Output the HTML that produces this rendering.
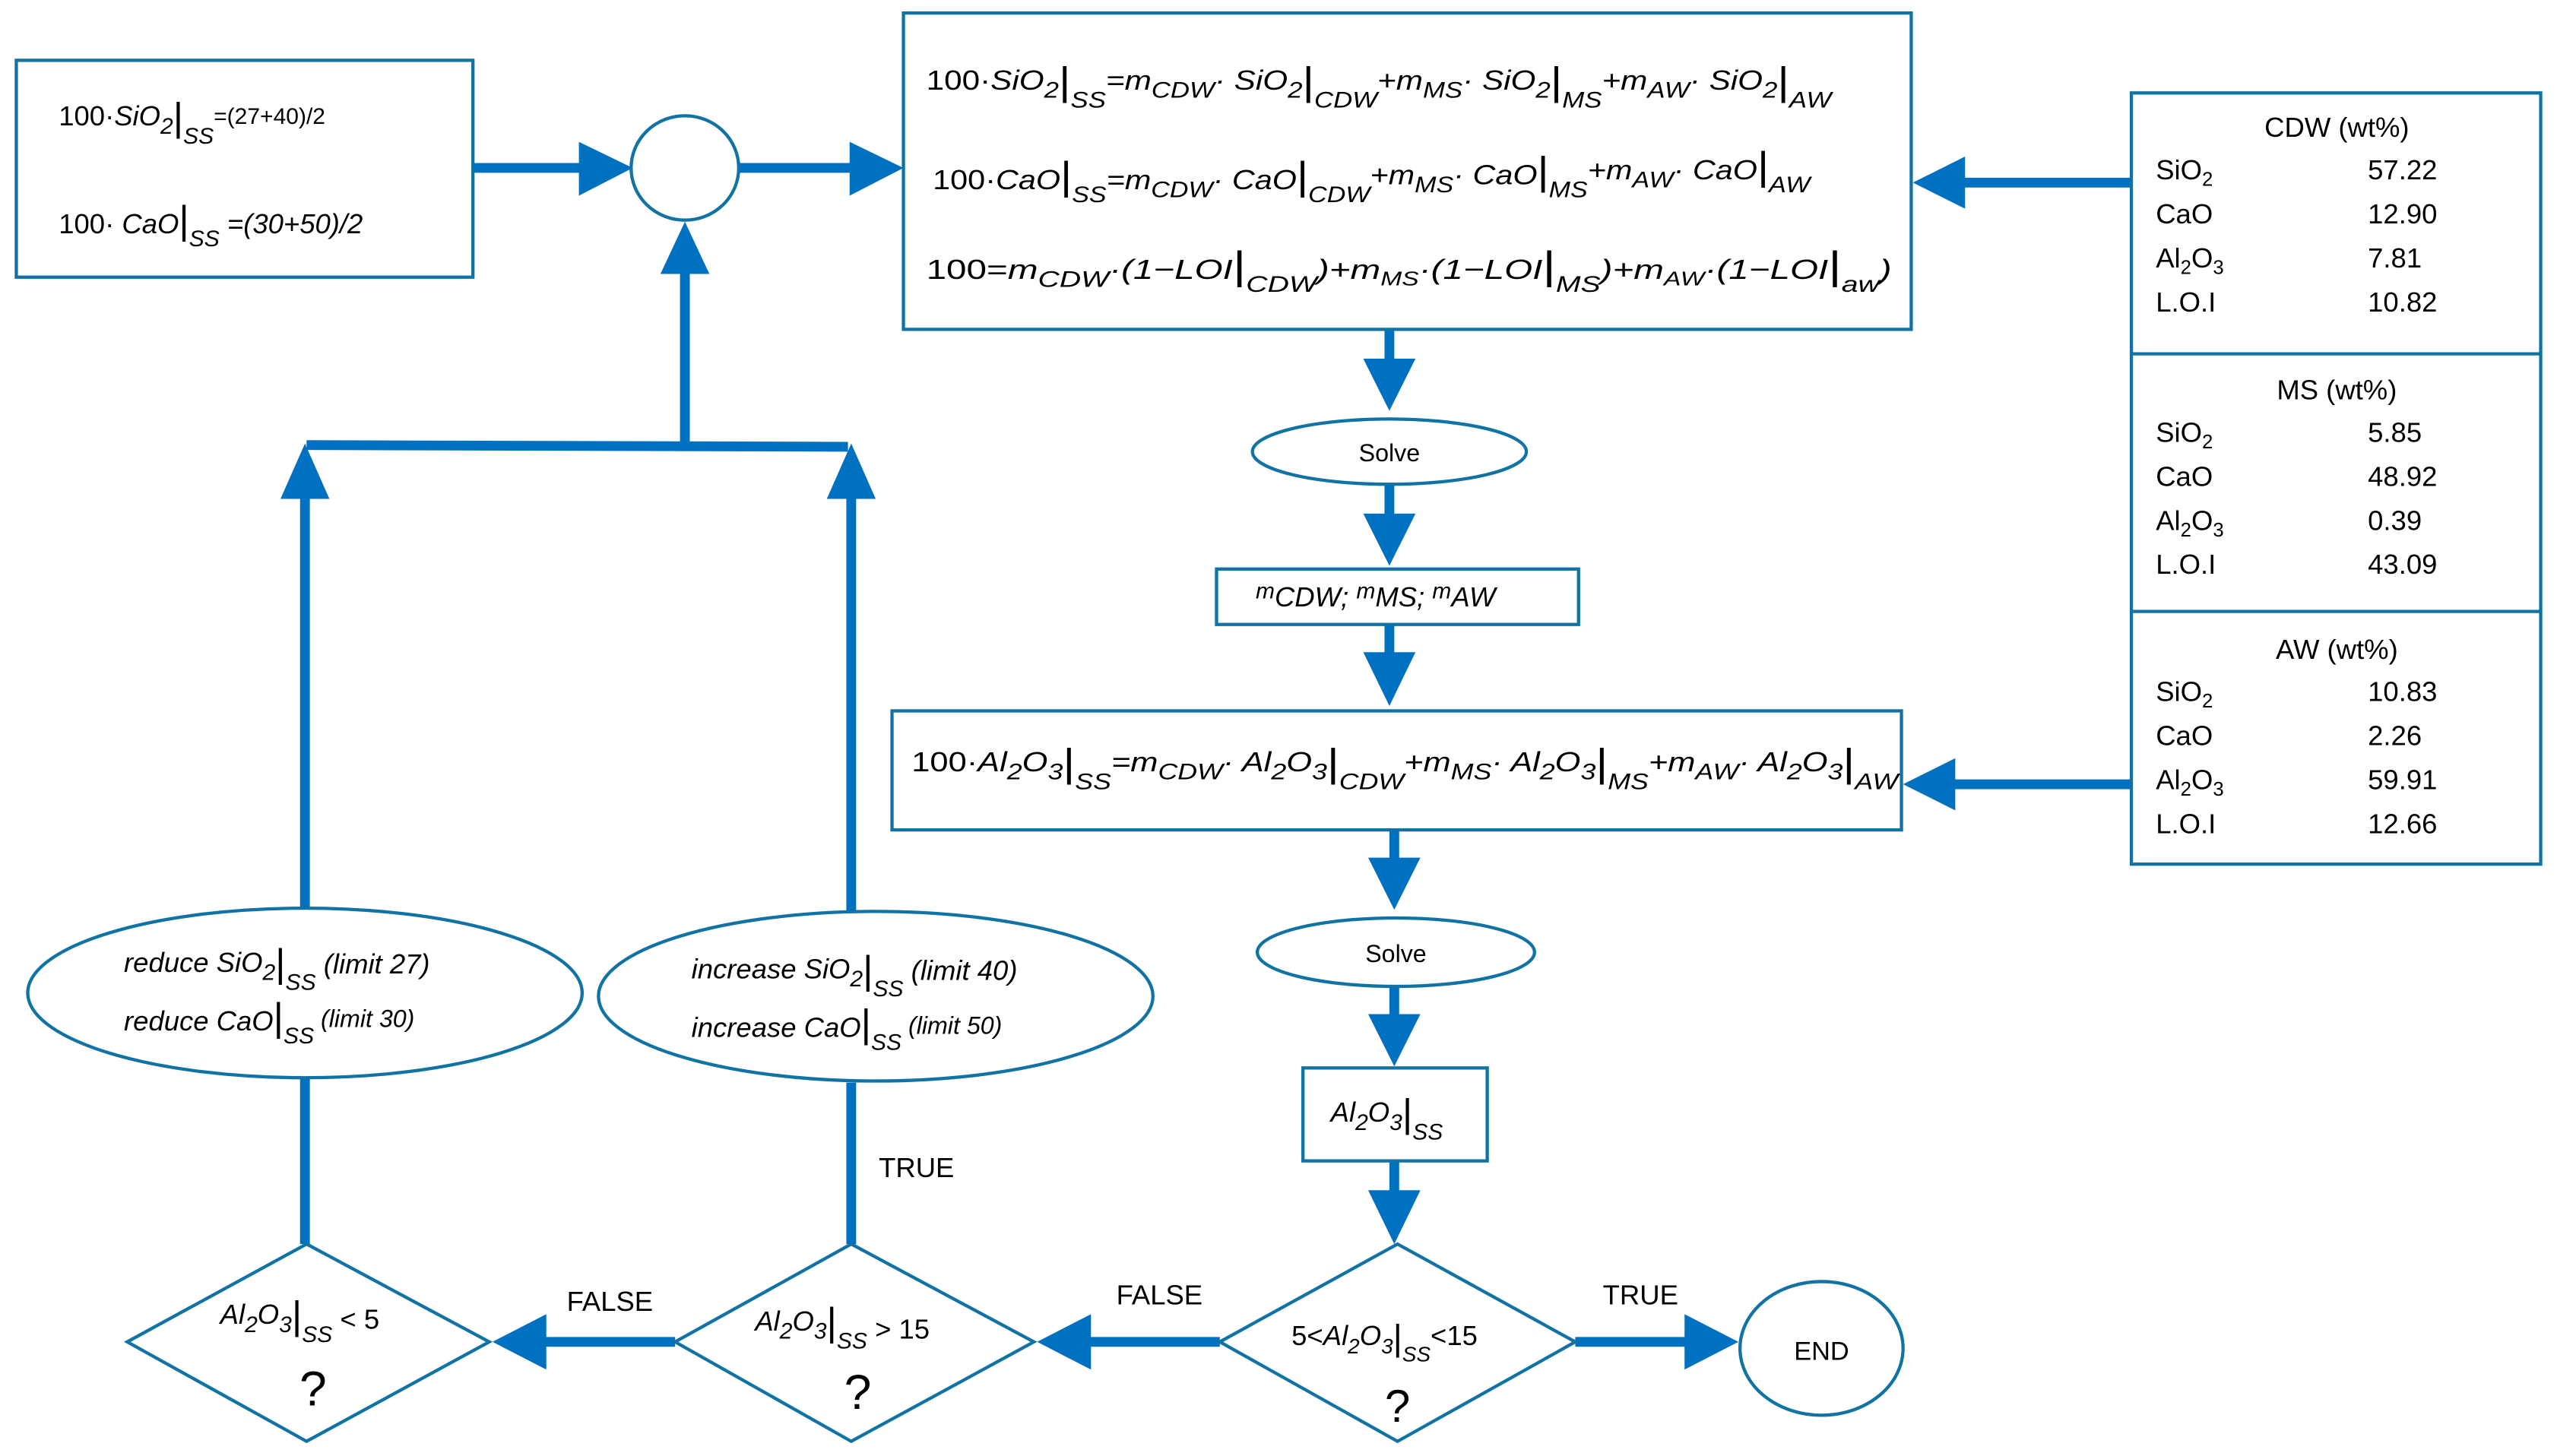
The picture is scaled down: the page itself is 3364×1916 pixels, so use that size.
<!DOCTYPE html>
<html><head><meta charset="utf-8"><style>
html,body{margin:0;padding:0;background:#fff}
svg{display:block}
text{font-family:"Liberation Sans",sans-serif;fill:#000}
.m{font-style:italic;font-size:17px}
.b{stroke:#1173a3;stroke-width:2;fill:#fff}
.a{stroke:#0070c0;stroke-width:6;fill:none}
.h{fill:#0070c0}
.t{font-size:17px}
</style></head><body>
<svg width="3364" height="1916" viewBox="0 0 1568 893" preserveAspectRatio="none" xmlns="http://www.w3.org/2000/svg">
<!-- connectors -->
<line class="a" x1="290" y1="103" x2="360" y2="103"/><polygon class="h" points="355,87 388,103 355,120"/>
<line class="a" x1="453" y1="103" x2="525" y2="103"/><polygon class="h" points="521,87 554,103 521,120"/>
<line class="a" x1="1307" y1="112" x2="1200" y2="112"/><polygon class="h" points="1205,96 1173,112 1205,128"/>
<line class="a" x1="1307" y1="481" x2="1195" y2="481"/><polygon class="h" points="1199,465 1167,481 1199,497"/>
<line class="a" x1="852" y1="202" x2="852" y2="225"/><polygon class="h" points="836,220 852,252 868,220"/>
<line class="a" x1="852" y1="297" x2="852" y2="320"/><polygon class="h" points="836,315 852,347 868,315"/>
<line class="a" x1="852" y1="383" x2="852" y2="405"/><polygon class="h" points="836,400 852,433 868,400"/>
<line class="a" x1="855" y1="509" x2="855" y2="530"/><polygon class="h" points="839,526 855,558 871,526"/>
<line class="a" x1="855" y1="605" x2="855" y2="628"/><polygon class="h" points="839,622 855,654 871,622"/>
<line class="a" x1="855" y1="712" x2="855" y2="735"/><polygon class="h" points="839,730 855,763 871,730"/>
<line class="a" x1="966" y1="823" x2="1040" y2="823"/><polygon class="h" points="1033,806 1066,823 1033,840"/>
<line class="a" x1="748" y1="823" x2="665" y2="823"/><polygon class="h" points="669,806 636,823 669,840"/>
<line class="a" x1="414" y1="823" x2="330" y2="823"/><polygon class="h" points="335,806 302,823 335,840"/>
<line class="a" x1="187" y1="763" x2="187" y2="660"/>
<line class="a" x1="187" y1="558" x2="187" y2="300"/><polygon class="h" points="172,306 187,272 202,306"/>
<line class="a" x1="522" y1="763" x2="522" y2="664"/>
<line class="a" x1="522" y1="560" x2="522" y2="300"/><polygon class="h" points="507,306 522,272 537,306"/>
<line class="a" x1="188" y1="273" x2="520" y2="274"/>
<line class="a" x1="420" y1="274" x2="420" y2="165"/><polygon class="h" points="405,168 420,136 435,168"/>

<!-- left box -->
<rect class="b" x="10" y="37" width="280" height="133"/>
<text class="m" x="36" y="77"><tspan font-style="normal">100·</tspan>SiO<tspan font-size="14" dy="5">2</tspan><tspan font-size="24" font-style="normal" dy="-2">|</tspan><tspan font-size="14" dy="8">SS</tspan><tspan font-size="14" font-style="normal" dy="-12">=(27+40)/2</tspan></text>
<text class="m" x="36" y="143"><tspan font-style="normal">100· </tspan>CaO<tspan font-size="24" font-style="normal">|</tspan><tspan font-size="14" dy="8">SS</tspan><tspan dy="-8"> =(30+50)/2</tspan></text>
<ellipse class="b" cx="420" cy="103" rx="33" ry="32"/>

<!-- top formula box -->
<rect class="b" x="554" y="8" width="618" height="194"/>
<text class="m" x="568" y="55" textLength="555" lengthAdjust="spacingAndGlyphs"><tspan font-style="normal">100·</tspan>SiO<tspan font-size="14" dy="5">2</tspan><tspan font-size="24" font-style="normal" dy="-2">|</tspan><tspan font-size="14" dy="8">SS</tspan><tspan dy="-11">=m</tspan><tspan font-size="14" dy="5">CDW</tspan><tspan dy="-5">· SiO</tspan><tspan font-size="14" dy="5">2</tspan><tspan font-size="24" font-style="normal" dy="-2">|</tspan><tspan font-size="14" dy="8">CDW</tspan><tspan dy="-11">+m</tspan><tspan font-size="14" dy="5">MS</tspan><tspan dy="-5">· SiO</tspan><tspan font-size="14" dy="5">2</tspan><tspan font-size="24" font-style="normal" dy="-2">|</tspan><tspan font-size="14" dy="8">MS</tspan><tspan dy="-11">+m</tspan><tspan font-size="14" dy="5">AW</tspan><tspan dy="-5">· SiO</tspan><tspan font-size="14" dy="5">2</tspan><tspan font-size="24" font-style="normal" dy="-2">|</tspan><tspan font-size="14" dy="8">AW</tspan></text>
<text class="m" x="572" y="116" textLength="538" lengthAdjust="spacingAndGlyphs"><tspan font-style="normal">100·</tspan>CaO<tspan font-size="24" font-style="normal">|</tspan><tspan font-size="14" dy="8">SS</tspan><tspan dy="-8">=m</tspan><tspan font-size="14" dy="5">CDW</tspan><tspan dy="-5">· CaO</tspan><tspan font-size="24" font-style="normal">|</tspan><tspan font-size="14" dy="8">CDW</tspan><tspan dy="-11">+m</tspan><tspan font-size="14" dy="5">MS</tspan><tspan dy="-5">· CaO</tspan><tspan font-size="24" font-style="normal">|</tspan><tspan font-size="14" dy="8">MS</tspan><tspan dy="-11">+m</tspan><tspan font-size="14" dy="5">AW</tspan><tspan dy="-5">· CaO</tspan><tspan font-size="24" font-style="normal">|</tspan><tspan font-size="14" dy="8">AW</tspan></text>
<text class="m" x="568" y="171" textLength="592" lengthAdjust="spacingAndGlyphs" font-family="Liberation Serif"><tspan font-style="normal" font-family="Liberation Sans">100=</tspan>m<tspan font-size="14" dy="5">CDW</tspan><tspan dy="-5">·(1−LOI</tspan><tspan font-size="24" font-style="normal">|</tspan><tspan font-size="14" dy="8">CDW</tspan><tspan dy="-8">)+m</tspan><tspan font-size="12" dy="4">MS</tspan><tspan dy="-4">·(1−LOI</tspan><tspan font-size="24" font-style="normal">|</tspan><tspan font-size="14" dy="8">MS</tspan><tspan dy="-8">)+m</tspan><tspan font-size="12" dy="4">AW</tspan><tspan dy="-4">·(1−LOI</tspan><tspan font-size="24" font-style="normal">|</tspan><tspan font-size="14" dy="8">aw</tspan><tspan dy="-8">)</tspan></text>

<!-- tables -->
<rect class="b" x="1307" y="57" width="251" height="473"/>
<line class="b" x1="1307" y1="217" x2="1558" y2="217"/>
<line class="b" x1="1307" y1="375" x2="1558" y2="375"/>
<g class="t">
<text x="1433" y="84" text-anchor="middle" class="t">CDW (wt%)</text>
<text x="1322" y="110" class="t">SiO<tspan font-size="12" dy="4">2</tspan></text><text x="1452" y="110" class="t">57.22</text>
<text x="1322" y="137" class="t">CaO</text><text x="1452" y="137" class="t">12.90</text>
<text x="1322" y="164" class="t">Al<tspan font-size="12" dy="4">2</tspan><tspan dy="-4">O</tspan><tspan font-size="12" dy="4">3</tspan></text><text x="1452" y="164" class="t">7.81</text>
<text x="1322" y="191" class="t">L.O.I</text><text x="1452" y="191" class="t">10.82</text>
<text x="1433" y="245" text-anchor="middle" class="t">MS (wt%)</text>
<text x="1322" y="271" class="t">SiO<tspan font-size="12" dy="4">2</tspan></text><text x="1452" y="271" class="t">5.85</text>
<text x="1322" y="298" class="t">CaO</text><text x="1452" y="298" class="t">48.92</text>
<text x="1322" y="325" class="t">Al<tspan font-size="12" dy="4">2</tspan><tspan dy="-4">O</tspan><tspan font-size="12" dy="4">3</tspan></text><text x="1452" y="325" class="t">0.39</text>
<text x="1322" y="352" class="t">L.O.I</text><text x="1452" y="352" class="t">43.09</text>
<text x="1433" y="404" text-anchor="middle" class="t">AW (wt%)</text>
<text x="1322" y="430" class="t">SiO<tspan font-size="12" dy="4">2</tspan></text><text x="1452" y="430" class="t">10.83</text>
<text x="1322" y="457" class="t">CaO</text><text x="1452" y="457" class="t">2.26</text>
<text x="1322" y="484" class="t">Al<tspan font-size="12" dy="4">2</tspan><tspan dy="-4">O</tspan><tspan font-size="12" dy="4">3</tspan></text><text x="1452" y="484" class="t">59.91</text>
<text x="1322" y="511" class="t">L.O.I</text><text x="1452" y="511" class="t">12.66</text>
</g>

<!-- center column -->
<ellipse class="b" cx="852" cy="277" rx="84" ry="20"/>
<text x="852" y="283" text-anchor="middle" font-size="15">Solve</text>
<rect class="b" x="746" y="349" width="222" height="34"/>
<text class="m" x="770" y="370"><tspan font-size="14" dy="-3">m</tspan><tspan dy="5">CDW; </tspan><tspan font-size="14" dy="-5">m</tspan><tspan dy="5">MS; </tspan><tspan font-size="14" dy="-5">m</tspan><tspan dy="5">AW</tspan></text>
<rect class="b" x="547" y="436" width="619" height="73"/>
<text class="m" x="559" y="473" textLength="605" lengthAdjust="spacingAndGlyphs"><tspan font-style="normal">100·</tspan>Al<tspan font-size="14" dy="5">2</tspan><tspan dy="-5">O</tspan><tspan font-size="14" dy="5">3</tspan><tspan font-size="24" font-style="normal" dy="-2">|</tspan><tspan font-size="14" dy="8">SS</tspan><tspan dy="-11">=m</tspan><tspan font-size="14" dy="5">CDW</tspan><tspan dy="-5">· Al</tspan><tspan font-size="14" dy="5">2</tspan><tspan dy="-5">O</tspan><tspan font-size="14" dy="5">3</tspan><tspan font-size="24" font-style="normal" dy="-2">|</tspan><tspan font-size="14" dy="8">CDW</tspan><tspan dy="-11">+m</tspan><tspan font-size="14" dy="5">MS</tspan><tspan dy="-5">· Al</tspan><tspan font-size="14" dy="5">2</tspan><tspan dy="-5">O</tspan><tspan font-size="14" dy="5">3</tspan><tspan font-size="24" font-style="normal" dy="-2">|</tspan><tspan font-size="14" dy="8">MS</tspan><tspan dy="-11">+m</tspan><tspan font-size="14" dy="5">AW</tspan><tspan dy="-5">· Al</tspan><tspan font-size="14" dy="5">2</tspan><tspan dy="-5">O</tspan><tspan font-size="14" dy="5">3</tspan><tspan font-size="24" font-style="normal" dy="-2">|</tspan><tspan font-size="14" dy="8">AW</tspan></text>
<ellipse class="b" cx="856" cy="584" rx="85" ry="21"/>
<text x="856" y="590" text-anchor="middle" font-size="15">Solve</text>
<rect class="b" x="799" y="655" width="113" height="57"/>
<text class="m" x="816" y="688">Al<tspan font-size="14" dy="5">2</tspan><tspan dy="-5">O</tspan><tspan font-size="14" dy="5">3</tspan><tspan font-size="24" font-style="normal" dy="-2">|</tspan><tspan font-size="14" dy="8">SS</tspan></text>

<!-- diamonds -->
<polygon class="b" points="857,763 966,823 857,884 748,823"/>
<text class="m" x="792" y="825" font-size="15"><tspan font-style="normal">5&lt;</tspan>Al<tspan font-size="13" dy="5">2</tspan><tspan dy="-5">O</tspan><tspan font-size="13" dy="5">3</tspan><tspan font-size="22" font-style="normal" dy="-2">|</tspan><tspan font-size="13" dy="7">SS</tspan><tspan font-style="normal" dy="-10">&lt;15</tspan></text>
<text x="857" y="872" text-anchor="middle" font-size="28">?</text>
<text x="1006" y="800" text-anchor="middle" font-size="17">TRUE</text>
<ellipse class="b" cx="1117" cy="827" rx="50" ry="41"/>
<text x="1117" y="834" text-anchor="middle" font-size="16">END</text>
<text x="711" y="800" text-anchor="middle" font-size="17">FALSE</text>

<polygon class="b" points="522,763 634,823 522,884 414,823"/>
<text class="m" x="463" y="816" font-size="16">Al<tspan font-size="14" dy="5">2</tspan><tspan dy="-5">O</tspan><tspan font-size="14" dy="5">3</tspan><tspan font-size="24" font-style="normal" dy="-2">|</tspan><tspan font-size="14" dy="8">SS</tspan><tspan font-style="normal" dy="-6"> &gt; 15</tspan></text>
<text x="526" y="864" text-anchor="middle" font-size="30">?</text>
<text x="374" y="804" text-anchor="middle" font-size="17">FALSE</text>
<text x="562" y="722" text-anchor="middle" font-size="17">TRUE</text>

<polygon class="b" points="188,763 300,823 188,884 78,823"/>
<text class="m" x="135" y="812" font-size="16">Al<tspan font-size="14" dy="5">2</tspan><tspan dy="-5">O</tspan><tspan font-size="14" dy="5">3</tspan><tspan font-size="24" font-style="normal" dy="-2">|</tspan><tspan font-size="14" dy="8">SS</tspan><tspan font-style="normal" dy="-8"> &lt; 5</tspan></text>
<text x="192" y="862" text-anchor="middle" font-size="30">?</text>

<!-- ellipses -->
<ellipse class="b" cx="187" cy="609" rx="170" ry="52"/>
<text class="m" x="76" y="596" font-family="Liberation Serif">reduce  <tspan font-family="Liberation Sans">SiO</tspan><tspan font-size="14" dy="5" font-family="Liberation Sans">2</tspan><tspan font-size="24" font-style="normal" dy="-2">|</tspan><tspan font-size="14" dy="8" font-family="Liberation Sans">SS</tspan><tspan dy="-10"> (limit 27)</tspan></text>
<text class="m" x="76" y="632" font-family="Liberation Serif">reduce <tspan font-family="Liberation Sans">CaO</tspan><tspan font-size="24" font-style="normal">|</tspan><tspan font-size="14" dy="8" font-family="Liberation Sans">SS</tspan><tspan dy="-10" font-size="15"> (limit 30)</tspan></text>
<ellipse class="b" cx="537" cy="611" rx="170" ry="52"/>
<text class="m" x="424" y="600" font-family="Liberation Serif">increase <tspan font-family="Liberation Sans">SiO</tspan><tspan font-size="14" dy="5" font-family="Liberation Sans">2</tspan><tspan font-size="24" font-style="normal" dy="-2">|</tspan><tspan font-size="14" dy="8" font-family="Liberation Sans">SS</tspan><tspan dy="-10"> (limit 40)</tspan></text>
<text class="m" x="424" y="636" font-family="Liberation Serif">increase <tspan font-family="Liberation Sans">CaO</tspan><tspan font-size="24" font-style="normal">|</tspan><tspan font-size="14" dy="8" font-family="Liberation Sans">SS</tspan><tspan dy="-10" font-size="15"> (limit 50)</tspan></text>
</svg>
</body></html>
